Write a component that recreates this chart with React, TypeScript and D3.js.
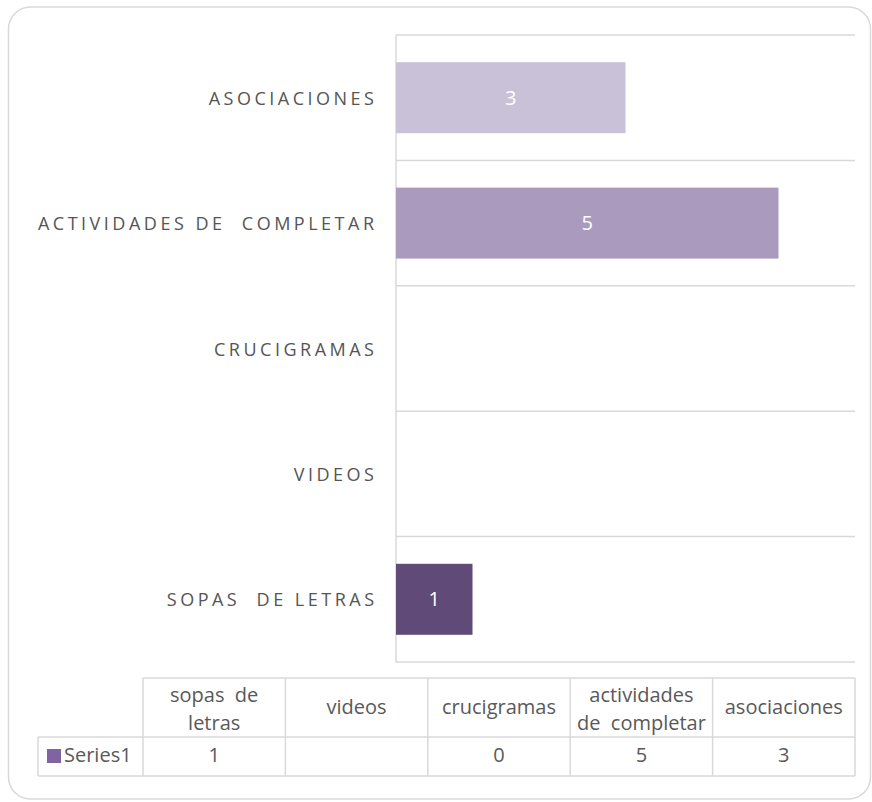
import React from 'react';
import * as d3 from 'd3';

const categories = ['sopas de letras', 'videos', 'crucigramas', 'actividades de completar', 'asociaciones'];
const axisLabels = ['SOPAS  DE LETRAS', 'VIDEOS', 'CRUCIGRAMAS', 'ACTIVIDADES DE  COMPLETAR', 'ASOCIACIONES'];
const headerLines = [['sopas  de', 'letras'], ['videos'], ['crucigramas'], ['actividades', 'de  completar'], ['asociaciones']];
const values: (number | null)[] = [1, null, 0, 5, 3];
const barColors = ['#5f4a78', '#8a76a8', '#9b89b5', '#aa9abe', '#c8c1d7'];
const seriesName = 'Series1';
const seriesColor = '#8064a2';
const valueMax = 6;

const W = 872;
const H = 802;
const plot = { left: 396, right: 855, top: 35, bottom: 662 };
const table = { left: 38, colLeft: 143, top: 678, mid: 737, bottom: 776 };
const font = '"Open Sans", sans-serif';
const textColor = '#595959';
const lineColor = '#d9d9d9';

const App = () => {
  const x = d3.scaleLinear().domain([0, valueMax]).range([plot.left, plot.right]);
  // top to bottom: last category first
  const order = [...categories].reverse();
  const yGrid = d3.scaleBand().domain(order).range([plot.top, plot.bottom]).padding(0);
  const y = d3.scaleBand().domain(order).range([plot.top, plot.bottom])
    .paddingInner(0.434).paddingOuter(0.217);
  const col = d3.scaleBand().domain(categories).range([table.colLeft, plot.right]).padding(0);

  const ls = 3.5;

  return (
    <div style={{ position: 'absolute', left: 0, top: 0 }}>
      <svg width={W} height={H} style={{ fontFamily: font, display: 'block' }}>
        <rect x={8.5} y={7} width={862} height={792} rx={22} fill="#fff" stroke={lineColor} strokeWidth={1.5} />

        {/* gridlines */}
        {order.map(c => (
          <line key={`g-${c}`} x1={plot.left} x2={plot.right} y1={yGrid(c)!} y2={yGrid(c)!}
            stroke={lineColor} strokeWidth={1.5} />
        ))}
        <line x1={plot.left} x2={plot.right} y1={plot.bottom} y2={plot.bottom} stroke={lineColor} strokeWidth={1.5} />
        <line x1={plot.left} x2={plot.left} y1={plot.top} y2={plot.bottom} stroke={lineColor} strokeWidth={1.5} />

        {/* bars */}
        {categories.map((c, i) => {
          const v = values[i];
          if (v == null || v === 0) return null;
          return (
            <g key={`b-${c}`}>
              <rect x={x(0)} y={y(c)!} width={x(v) - x(0)} height={y.bandwidth()} fill={barColors[i]} />
              <text x={(x(0) + x(v)) / 2} y={y(c)! + y.bandwidth() / 2 + 7} textAnchor="middle"
                fill="#fff" style={{ fontSize: '20px' }}>{v}</text>
            </g>
          );
        })}

        {/* category labels */}
        {categories.map((c, i) => (
          <text key={`l-${c}`} x={374 + ls} y={yGrid(c)! + yGrid.bandwidth() / 2 + 7} textAnchor="end"
            fill="#555" style={{ fontSize: '18px', letterSpacing: `${ls}px`, whiteSpace: 'pre' }}>
            {axisLabels[i]}
          </text>
        ))}

        {/* data table */}
        <g stroke={lineColor} strokeWidth={1.5} fill="none">
          <line x1={table.colLeft} x2={plot.right} y1={table.top} y2={table.top} />
          <line x1={table.left} x2={plot.right} y1={table.mid} y2={table.mid} />
          <line x1={table.left} x2={plot.right} y1={table.bottom} y2={table.bottom} />
          <line x1={table.left} x2={table.left} y1={table.mid} y2={table.bottom} />
          {categories.map(c => (
            <line key={`cl-${c}`} x1={col(c)!} x2={col(c)!} y1={table.top} y2={table.bottom} />
          ))}
          <line x1={plot.right} x2={plot.right} y1={table.top} y2={table.bottom} />
        </g>
        {categories.map((c, i) => {
          const cx = col(c)! + col.bandwidth() / 2;
          const lines = headerLines[i];
          const base = lines.length === 2 ? 702 : 714;
          return (
            <g key={`h-${c}`}>
              {lines.map((t, k) => (
                <text key={k} x={cx} y={base + k * 28} textAnchor="middle" fill={textColor}
                  style={{ fontSize: '20px', whiteSpace: 'pre' }}>{t}</text>
              ))}
              <text x={cx} y={762} textAnchor="middle" fill={textColor} style={{ fontSize: '20px' }}>
                {values[i] == null ? '' : values[i]}
              </text>
            </g>
          );
        })}
        <rect x={47} y={749} width={14} height={14} fill={seriesColor} />
        <text x={64} y={762} fill={textColor} style={{ fontSize: '20px' }}>{seriesName}</text>
      </svg>
    </div>
  );
};

export default App;
